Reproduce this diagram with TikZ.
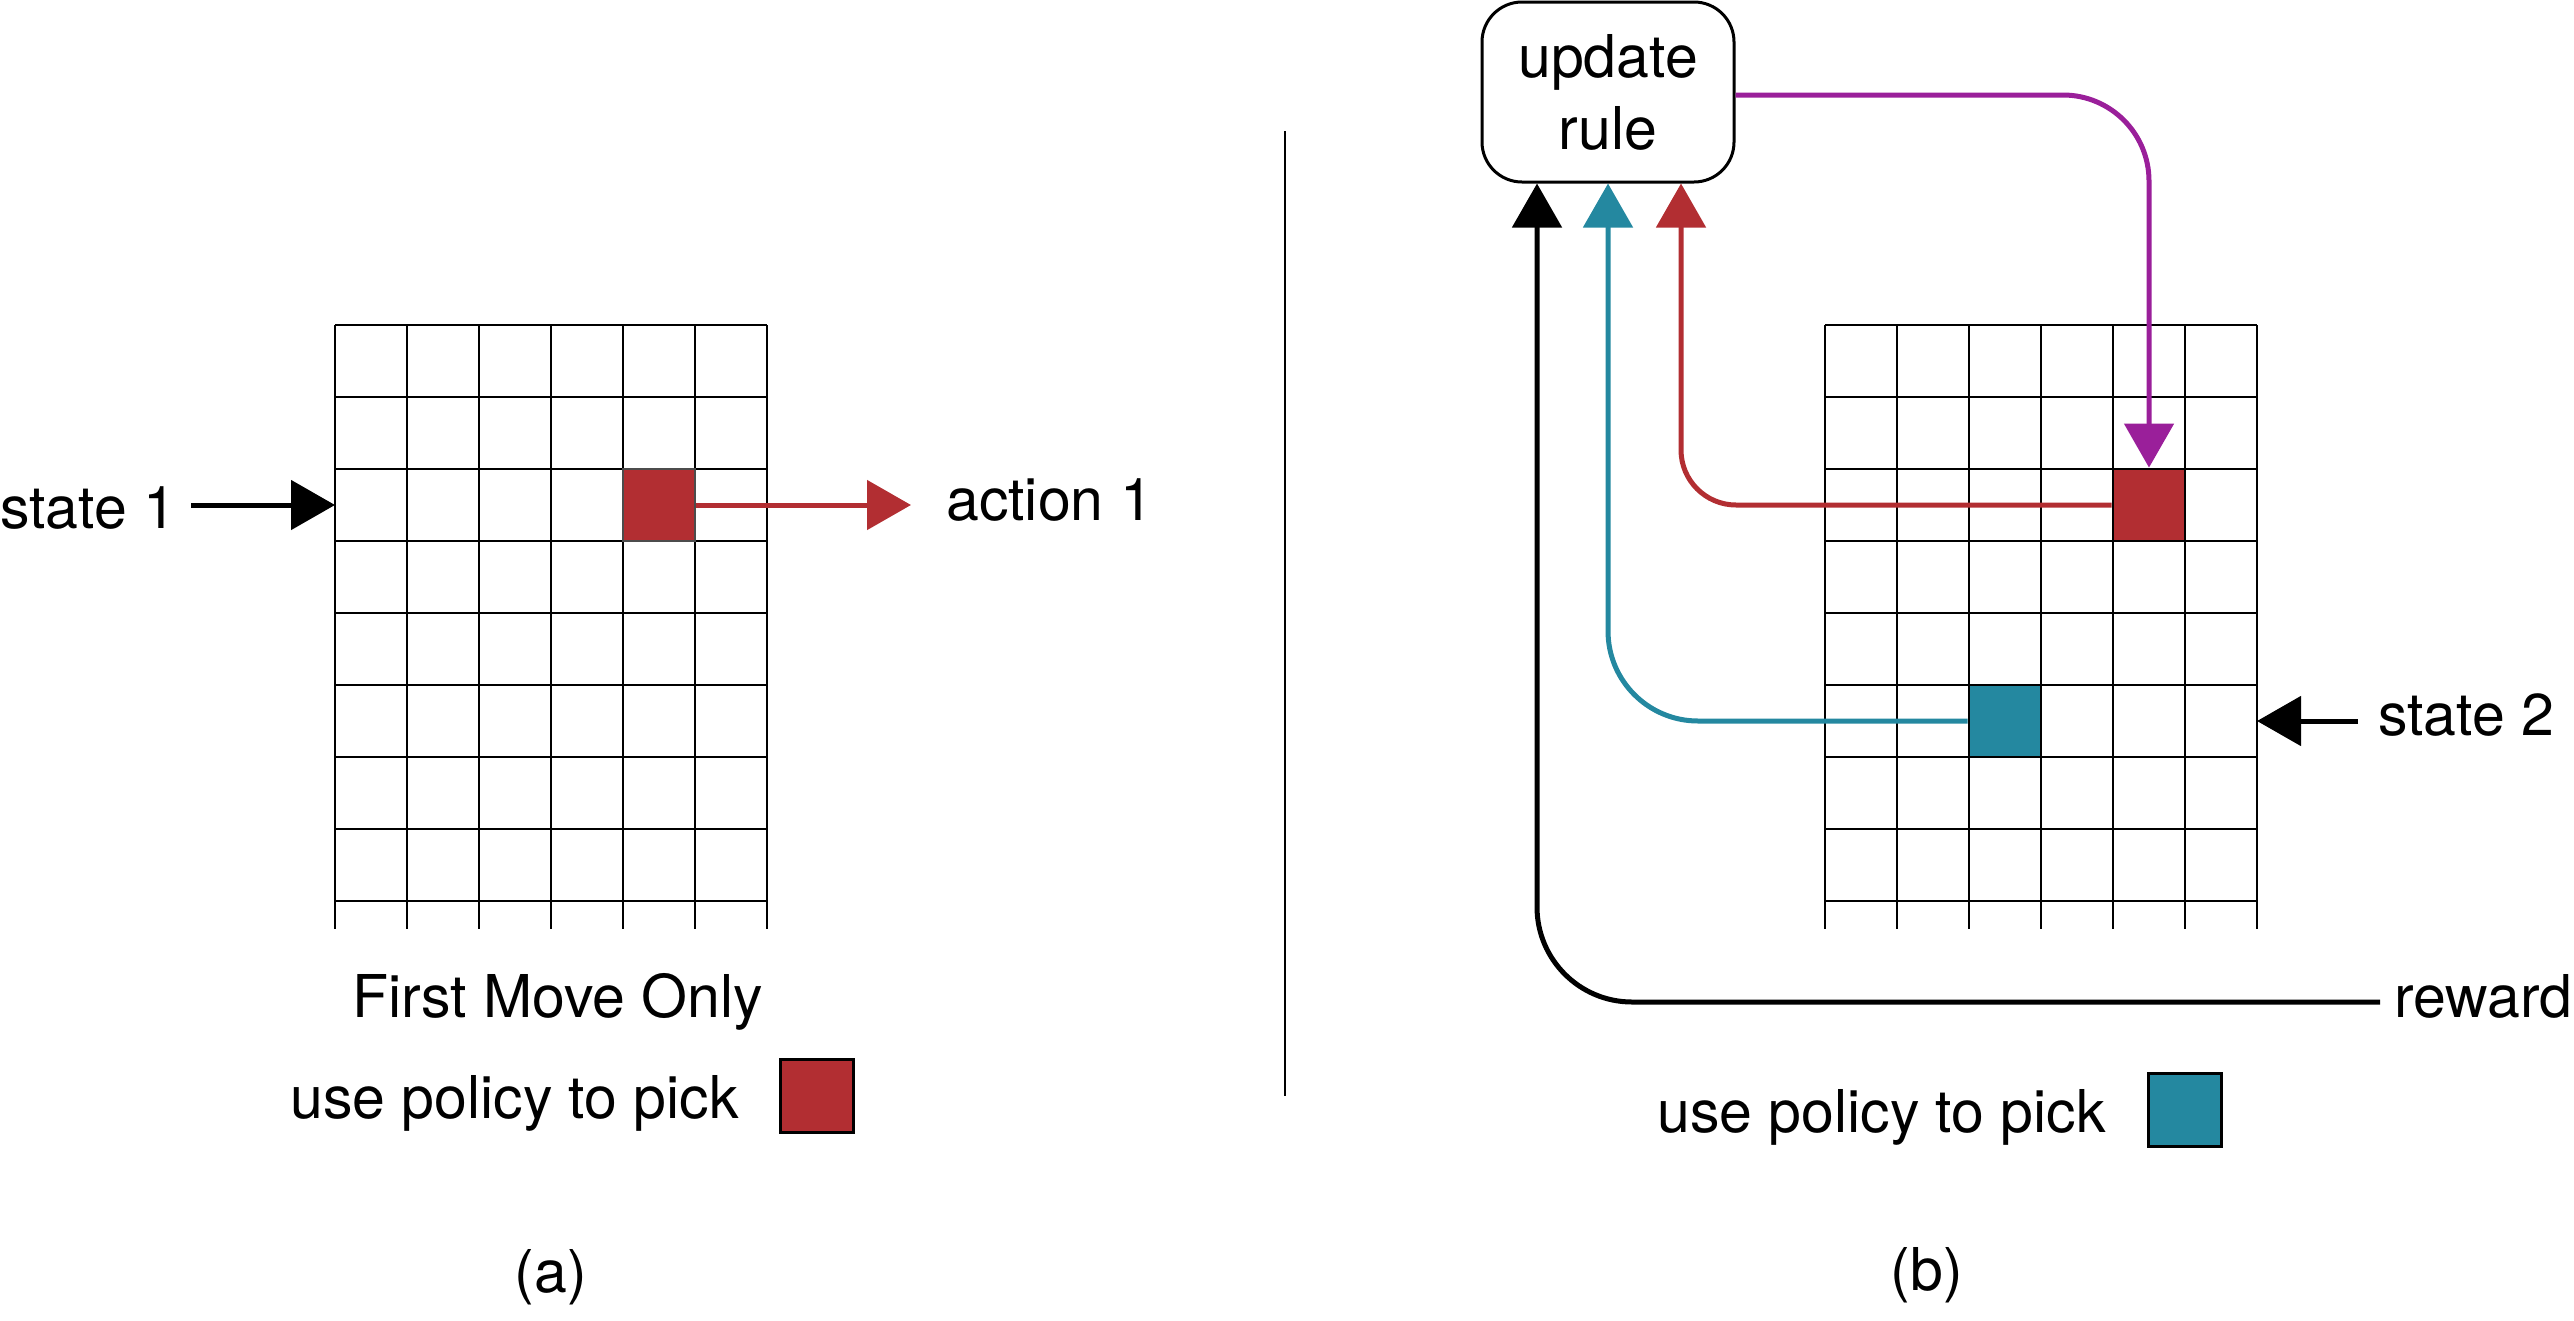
\documentclass[tikz,border=0pt]{standalone}
\usepackage{fontspec}
\setmainfont{TeX Gyre Heros}
\usetikzlibrary{arrows.meta}

\definecolor{actred}{HTML}{B22E32}
\definecolor{actteal}{HTML}{2488A0}
\definecolor{updpurple}{HTML}{9A1F9A}

\tikzset{
  lbl/.style={inner sep=0pt, font=\fontsize{59pt}{72pt}\selectfont},
  gridline/.style={line width=2.8pt, black},
  gridlineb/.style={line width=2.4pt, black},
  cellbox/.style={minimum width=72pt, minimum height=72pt, inner sep=0pt, line width=2.8pt},
  flow/.style={line width=5pt, -{Triangle[length=44pt,width=49pt]}},
  updbox/.style={draw, line width=3pt, rounded corners=40pt, minimum width=252pt,
    minimum height=180pt, align=center, inner sep=0pt,
    font=\fontsize{59pt}{72pt}\selectfont},
}

\begin{document}
\begin{tikzpicture}[x=1pt, y=-1pt]
\useasboundingbox (0,0) rectangle (2574,1320);

% ---------- panel (a) ----------
\foreach \r in {0,...,8} \draw[gridline] (335,325+72*\r) -- (767,325+72*\r);
\foreach \c in {0,...,6} \draw[gridline] (335+72*\c,325) -- (335+72*\c,929);
\node[cellbox, draw=black!70, fill=actred] (lred) at (659,505) {};

\node[lbl, anchor=base west] (st1) at (0,528) {state 1};
\coordinate (st1from) at (191,505);
\coordinate (g1west) at (335,505);
\draw[flow] (st1from) -- (g1west);

\node[lbl, anchor=base west] (act1) at (946,520) {action 1};
\coordinate (act1tip) at (911,505);
\draw[flow, actred] (lred.east) -- (act1tip);

\node[lbl, anchor=base west] (fmo) at (352,1017) {First Move Only};
\node[lbl, anchor=base west] (pola) at (290,1118) {use policy to pick};
\node[cellbox, draw=black, line width=3pt, fill=actred, minimum width=73pt, minimum height=73pt] (lega) at (817,1096) {};
\node[lbl, anchor=base] (capa) at (551,1292) {(a)};

% divider
\draw[line width=2pt] (1285,131) -- (1285,1096);

% ---------- panel (b) ----------
\foreach \r in {0,...,8} \draw[gridlineb] (1825,325+72*\r) -- (2257,325+72*\r);
\foreach \c in {0,...,6} \draw[gridlineb] (1825+72*\c,325) -- (1825+72*\c,929);
\node[cellbox, draw=black, fill=actred] (rred) at (2149,505) {};
\node[cellbox, draw=black, fill=actteal] (tcell) at (2005,721) {};

\node[updbox] (upd) at (1608,92) {update\\rule};

% update rule feeds back into the chosen cell
\draw[flow, updpurple, rounded corners=86pt] ([yshift=-3pt]upd.east) -| (rred.north);

% first action, second action and reward go into the update rule
\draw[flow, actred, rounded corners=55pt] (rred.west) -| ([xshift=73pt]upd.south);
\draw[flow, actteal, rounded corners=90pt] (tcell.west) -| (upd.south);

\node[lbl, anchor=base west] (rew) at (2394,1017) {reward};
\coordinate (rewfrom) at (2380,1002);
\draw[flow, rounded corners=95pt] (rewfrom) -| ([xshift=-71pt]upd.south);

\node[lbl, anchor=base west] (st2) at (2378,735) {state 2};
\coordinate (st2from) at (2358,721);
\coordinate (g2east) at (2257,721);
\draw[flow] (st2from) -- (g2east);

\node[lbl, anchor=base west] (polb) at (1657,1132) {use policy to pick};
\node[cellbox, draw=black, line width=3pt, fill=actteal, minimum width=73pt, minimum height=73pt] (legb) at (2185,1110) {};
\node[lbl, anchor=base] (capb) at (1927,1290) {(b)};
\end{tikzpicture}
\end{document}
